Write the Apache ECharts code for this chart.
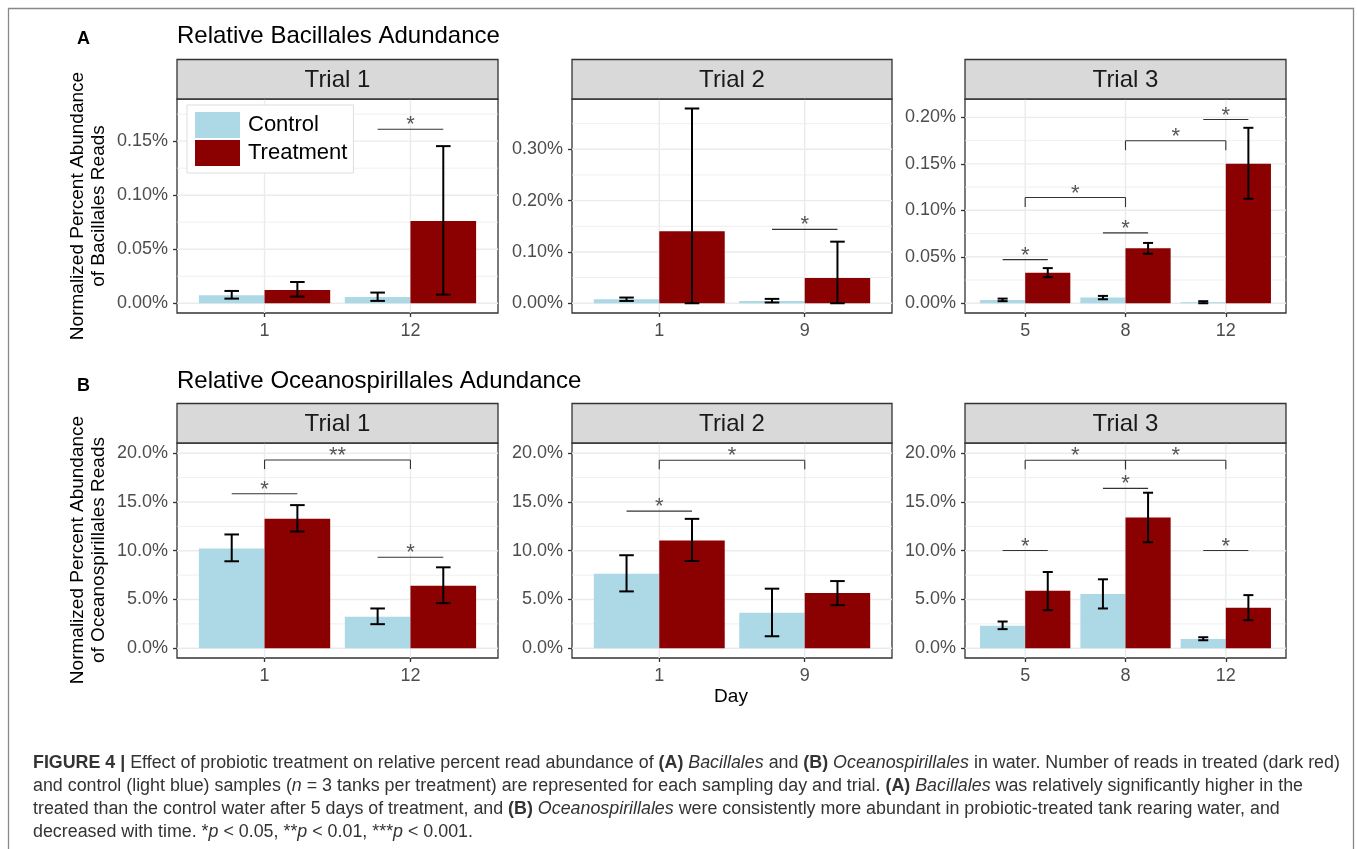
<!DOCTYPE html>
<html>
<head>
<meta charset="utf-8">
<script src="https://cdn.jsdelivr.net/npm/echarts@6/dist/echarts.min.js"></script>
<style>
  html, body { margin: 0; padding: 0; background: #fff; }
  #chart { width: 1357px; height: 849px; }
</style>
</head>
<body>
<div id="chart"></div>
<script>
const trials = ['Trial 1', 'Trial 2', 'Trial 3']
const days = [['1', '12'], ['1', '9'], ['5', '8', '12']]

// Bacillales, % of reads (mean and [low, high] error bar) per trial
const bacControl = [[0.0074, 0.0059], [0.0078, 0.0045], [0.0036, 0.0061, 0.0011]]
const bacControlErr = [
  [[0.0043, 0.0114], [0.0022, 0.0099]],
  [[0.0045, 0.0111], [0.0015, 0.0085]],
  [[0.0022, 0.0050], [0.0043, 0.0079], [0.0000, 0.0022]]
]
const bacTreat = [[0.0123, 0.0762], [0.1404, 0.0494], [0.0328, 0.0591, 0.1500]]
const bacTreatErr = [
  [[0.0062, 0.0197], [0.0080, 0.1454]],
  [[0.0000, 0.3795], [0.0000, 0.1200]],
  [[0.0281, 0.0378], [0.0533, 0.0649], [0.1124, 0.1888]]
]
// significance marks: [from day, to day, line y, bracket tick end, label]
const bacSig = [
  [[1, 1, 0.161, null, '*']],
  [[1, 1, 0.144, null, '*']],
  [[0, 0, 0.0469, null, '*'], [0, 1, 0.1138, 0.1035, '*'], [1, 1, 0.0757, null, '*'],
   [1, 2, 0.1748, 0.1647, '*'], [2, 2, 0.1978, null, '*']]
]
const bacTicks = [[0, 0.05, 0.10, 0.15], [0, 0.10, 0.20, 0.30], [0, 0.05, 0.10, 0.15, 0.20]]
const bacRange = [[-0.009, 0.189], [-0.019, 0.398], [-0.0105, 0.2198]]

// Oceanospirillales, % of reads
const oceControl = [[10.23, 3.23], [7.65, 3.64], [2.30, 5.56, 0.96]]
const oceControlErr = [
  [[8.92, 11.67], [2.47, 4.08]],
  [[5.83, 9.54], [1.23, 6.11]],
  [[1.96, 2.74], [4.08, 7.07], [0.82, 1.13]]
]
const oceTreat = [[13.27, 6.42], [11.05, 5.66], [5.90, 13.41, 4.16]]
const oceTreatErr = [
  [[11.97, 14.68], [4.63, 8.30]],
  [[8.95, 13.27], [4.42, 6.89]],
  [[3.91, 7.82], [10.87, 15.95], [2.88, 5.45]]
]
const oceSig = [
  [[0, 0, 15.84, null, '*'], [0, 1, 19.31, 18.38, '**'], [1, 1, 9.33, null, '*']],
  [[0, 0, 14.06, null, '*'], [0, 1, 19.28, 18.35, '*']],
  [[0, 0, 10.02, null, '*'], [0, 1, 19.28, 18.35, '*'], [1, 1, 16.40, null, '*'],
   [1, 2, 19.28, 18.35, '*'], [2, 2, 10.02, null, '*']]
]
const oceTicks = [0, 5, 10, 15, 20]
const oceRange = [-1.0, 21.05]

const FONT = 'Liberation Sans, Arial, sans-serif'
const CONTROL = '#ADD8E6'
const TREAT = '#8B0000'
const cols = [[177, 498], [572, 892], [965, 1286]]
const rows = [{ strip: 59.5, top: 99, bottom: 313 }, { strip: 403.5, top: 443, bottom: 658 }]

const panels = []
for (let i = 0; i < 3; i++) {
  panels.push({ row: 0, col: i, days: days[i], control: bacControl[i], controlErr: bacControlErr[i],
    treat: bacTreat[i], treatErr: bacTreatErr[i], sig: bacSig[i], ticks: bacTicks[i], range: bacRange[i], dec: 2 })
}
for (let i = 0; i < 3; i++) {
  panels.push({ row: 1, col: i, days: days[i], control: oceControl[i], controlErr: oceControlErr[i],
    treat: oceTreat[i], treatErr: oceTreatErr[i], sig: oceSig[i], ticks: oceTicks, range: oceRange, dec: 1 })
}

function minorOf (ticks, range) {
  const step = ticks[1] - ticks[0]
  const out = []
  for (let k = -1; k < ticks.length; k++) {
    const m = (k < 0 ? ticks[0] : ticks[k]) + (k < 0 ? -step / 2 : step / 2)
    if (m > range[0] && m < range[1]) out.push(m)
  }
  return out
}

const grid = []
const xAxis = []
const yAxis = []
const series = []
const graphic = []

panels.forEach((p, gi) => {
  const c = cols[p.col]
  const r = rows[p.row]
  const n = p.days.length
  const cats = p.days.map((d, k) => k + 1)
  grid.push({ left: c[0], top: r.top, width: c[1] - c[0], height: r.bottom - r.top,
    show: true, borderColor: '#333', borderWidth: 1.3, backgroundColor: '#fff', containLabel: false })
  xAxis.push({
    type: 'value', gridIndex: gi, min: 0.4, max: n + 0.6,
    axisLine: { show: false, onZero: false },
    axisTick: { show: true, length: 4, customValues: cats, lineStyle: { color: '#333', width: 1.3 } },
    axisLabel: { customValues: cats, margin: 9, color: '#4D4D4D', fontSize: 18, fontFamily: FONT,
      formatter: v => p.days[Math.round(v) - 1] || '' },
    splitLine: { show: false }
  })
  yAxis.push({
    type: 'value', gridIndex: gi, min: p.range[0], max: p.range[1],
    axisLine: { show: false, onZero: false },
    axisTick: { show: true, length: 4, customValues: p.ticks, lineStyle: { color: '#333', width: 1.3 } },
    axisLabel: { customValues: p.ticks, margin: 9, color: '#4D4D4D', fontSize: 18, fontFamily: FONT,
      formatter: v => v.toFixed(p.dec) + '%' },
    splitLine: { show: false }
  })

  // grid lines
  const lines = []
  p.ticks.forEach(t => lines.push([0, t, 0]))
  minorOf(p.ticks, p.range).forEach(t => lines.push([0, t, 1]))
  cats.forEach(k => lines.push([1, k, 0]))
  series.push({
    type: 'custom', xAxisIndex: gi, yAxisIndex: gi, silent: true, z: 1, data: lines,
    renderItem (params, api) {
      const cs = params.coordSys
      const pos = api.value(1)
      let shape
      if (api.value(0)) {
        const x = api.coord([pos, 0])[0]
        shape = { x1: x, y1: cs.y, x2: x, y2: cs.y + cs.height }
      } else {
        const y = api.coord([1, pos])[1]
        shape = { x1: cs.x, y1: y, x2: cs.x + cs.width, y2: y }
      }
      return { type: 'line', shape, style: { stroke: '#EBEBEB', lineWidth: api.value(2) ? 0.8 : 1.4 } }
    }
  })

  // bars
  const bar = (name, color, values, side) => ({
    name, type: 'custom', xAxisIndex: gi, yAxisIndex: gi, z: 2, itemStyle: { color },
    data: values.map((v, k) => [k + 1, v]),
    renderItem (params, api) {
      const x0 = side < 0 ? api.value(0) - 0.45 : api.value(0)
      const a = api.coord([x0, 0])
      const b = api.coord([x0 + 0.45, api.value(1)])
      return { type: 'rect', shape: { x: a[0], y: b[1], width: b[0] - a[0], height: a[1] - b[1] }, style: api.style() }
    }
  })
  series.push(bar('Control', CONTROL, p.control, -1))
  series.push(bar('Treatment', TREAT, p.treat, 1))

  // error bars
  const err = (errs, side) => ({
    type: 'custom', xAxisIndex: gi, yAxisIndex: gi, z: 3, silent: true,
    data: errs.map((e, k) => [k + 1 + side * 0.225, e[0], e[1]]),
    renderItem (params, api) {
      const x = api.value(0)
      const lo = api.coord([x, api.value(1)])
      const hi = api.coord([x, api.value(2)])
      const h = api.size([0.05, 0])[0]
      const st = { stroke: '#000', lineWidth: 2 }
      return { type: 'group', children: [
        { type: 'line', shape: { x1: lo[0], y1: lo[1], x2: hi[0], y2: hi[1] }, style: st },
        { type: 'line', shape: { x1: lo[0] - h, y1: lo[1], x2: lo[0] + h, y2: lo[1] }, style: st },
        { type: 'line', shape: { x1: hi[0] - h, y1: hi[1], x2: hi[0] + h, y2: hi[1] }, style: st }
      ] }
    }
  })
  series.push(err(p.controlErr, -1))
  series.push(err(p.treatErr, 1))

  // significance
  series.push({
    type: 'custom', xAxisIndex: gi, yAxisIndex: gi, z: 4, silent: true,
    data: p.sig.map(s => [s[0], s[1], s[2], s[3] == null ? s[2] : s[3]]),
    renderItem (params, api) {
      const s = p.sig[params.dataIndex]
      const from = api.value(0)
      const to = api.value(1)
      let xa, xb
      if (from === to) { xa = from + 1 - 0.225; xb = from + 1 + 0.225 } else { xa = from + 1; xb = to + 1 }
      const a = api.coord([xa, api.value(2)])
      const b = api.coord([xb, api.value(2)])
      const t = api.coord([xa, api.value(3)])
      const st = { stroke: '#333', lineWidth: 1.1 }
      const kids = [{ type: 'line', shape: { x1: a[0], y1: a[1], x2: b[0], y2: b[1] }, style: st }]
      if (from !== to) {
        kids.push({ type: 'line', shape: { x1: a[0], y1: a[1], x2: a[0], y2: t[1] }, style: st })
        kids.push({ type: 'line', shape: { x1: b[0], y1: b[1], x2: b[0], y2: t[1] }, style: st })
      }
      kids.push({ type: 'text', style: { text: s[4], x: (a[0] + b[0]) / 2, y: a[1] + 7,
        align: 'center', verticalAlign: 'bottom', textAlign: 'center', textVerticalAlign: 'bottom',
        fontSize: 22, fontFamily: FONT, fill: '#555' } })
      return { type: 'group', children: kids }
    }
  })

  // strip
  graphic.push({ type: 'rect', shape: { x: c[0], y: r.strip, width: c[1] - c[0], height: r.top - r.strip },
    style: { fill: '#D9D9D9', stroke: '#333', lineWidth: 1.3 }, z: 10 })
  graphic.push({ type: 'text', x: (c[0] + c[1]) / 2, y: (r.strip + r.top) / 2 + 1, z: 11,
    style: { text: trials[p.col], fontSize: 24, fontFamily: FONT, fill: '#1A1A1A',
      align: 'center', verticalAlign: 'middle', textAlign: 'center', textVerticalAlign: 'middle' } })
})

const txt = (x, y, text, o) => ({ type: 'text', x, y, z: 11,
  style: Object.assign({ text, fontFamily: FONT, fill: '#000', fontSize: 18,
    align: 'left', verticalAlign: 'middle', textAlign: 'left', textVerticalAlign: 'middle' }, o || {}) })

graphic.push({ type: 'rect', shape: { x: 8.5, y: 8.5, width: 1345, height: 860 },
  style: { fill: null, stroke: '#888', lineWidth: 1.3 }, z: 0, silent: true })
graphic.push(txt(77, 39, 'A', { fontWeight: 'bold', fontSize: 18 }))
graphic.push(txt(77, 386, 'B', { fontWeight: 'bold', fontSize: 18 }))
graphic.push(txt(177, 36, 'Relative Bacillales Adundance', { fontSize: 24 }))
graphic.push(txt(177, 381, 'Relative Oceanospirillales Adundance', { fontSize: 24 }))
graphic.push(Object.assign(txt(88.5, 206, 'Normalized Percent Abundance\nof Bacillales Reads',
  { fontSize: 19, align: 'center', textAlign: 'center', lineHeight: 21 }), { rotation: Math.PI / 2 }))
graphic.push(Object.assign(txt(88.5, 550, 'Normalized Percent Abundance\nof Oceanospirillales Reads',
  { fontSize: 19, align: 'center', textAlign: 'center', lineHeight: 21 }), { rotation: Math.PI / 2 }))
graphic.push(txt(731, 697, 'Day', { fontSize: 19, align: 'center', textAlign: 'center' }))

const CAP = 17.85
const captionLines = [
  '{b|FIGURE 4 |} Effect of probiotic treatment on relative percent read abundance of {b|(A)} {i|Bacillales} and {b|(B)} {i|Oceanospirillales} in water. Number of reads in treated (dark red)',
  'and control (light blue) samples ({i|n} = 3 tanks per treatment) are represented for each sampling day and trial. {b|(A)} {i|Bacillales} was relatively significantly higher in the',
  'treated than the control water after 5 days of treatment, and {b|(B)} {i|Oceanospirillales} were consistently more abundant in probiotic-treated tank rearing water, and',
  'decreased with time. *{i|p} < 0.05, **{i|p} < 0.01, ***{i|p} < 0.001.'
]
captionLines.forEach((line, k) => {
  graphic.push(txt(33, 763 + k * 23, line, { fontSize: CAP, fill: '#333',
    rich: {
      b: { fontWeight: 'bold', fontSize: CAP, fontFamily: FONT, fill: '#333', color: '#333' },
      i: { fontStyle: 'italic', fontSize: CAP, fontFamily: FONT, fill: '#333', color: '#333' }
    } }))
})

const chart = echarts.init(document.getElementById('chart'))
chart.setOption({
  animation: false,
  backgroundColor: '#fff',
  textStyle: { fontFamily: FONT },
  legend: {
    data: ['Control', 'Treatment'], orient: 'vertical', left: 187, top: 105,
    icon: 'rect', itemWidth: 45, itemHeight: 26, itemGap: 2,
    padding: [7, 6, 7, 8], borderColor: '#DDD', borderWidth: 1, backgroundColor: '#fff',
    textStyle: { fontSize: 22, color: '#000', fontFamily: FONT, padding: [0, 0, 0, 3] },
    selectedMode: false, z: 20
  },
  grid, xAxis, yAxis, series, graphic
})
</script>
</body>
</html>
